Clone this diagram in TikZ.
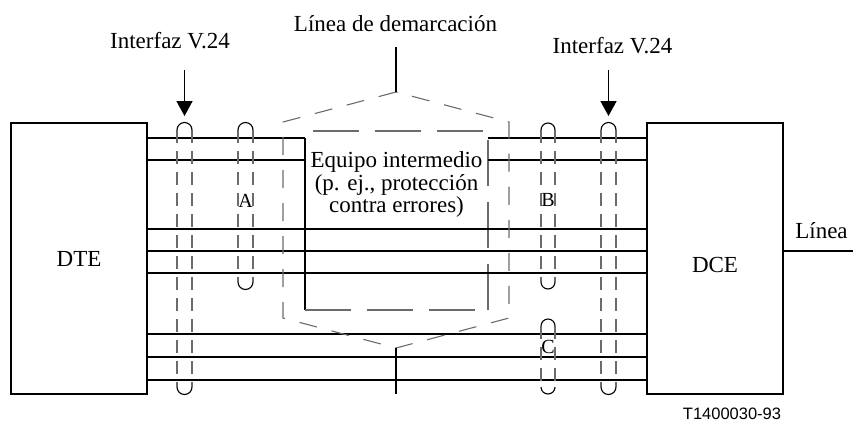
\documentclass[tikz,border=0pt]{standalone}
\usepackage{fontspec}
\setmainfont{Liberation Serif}
\newfontfamily\labsans{Liberation Sans}
\usetikzlibrary{arrows.meta}
\definecolor{dashgray}{gray}{0.42}
\begin{document}
\begin{tikzpicture}[x=1pt,y=-1pt,
  box/.style={draw, line width=1.2pt, inner sep=0pt, minimum width=136pt, minimum height=271pt,
              font=\fontsize{23}{27}\selectfont},
  wire/.style={line width=2pt},
  bundle/.style={dashgray, line width=1.1pt, dash pattern=on 13pt off 8pt},
  ovalend/.style={line width=1.1pt},
  hexline/.style={dashgray, line width=1.1pt, dash pattern=on 18pt off 15pt},
  iebox/.style={dashgray, line width=1.3pt, dash pattern=on 46pt off 16pt},
  txt/.style={font=\fontsize{23}{27}\selectfont, inner sep=0pt, anchor=base},
  lbl/.style={font=\fontsize{20}{24}\selectfont, inner sep=0pt},
  ptr/.style={line width=1.6pt, -{Triangle[length=15pt,width=16pt]}},
  stem/.style={line width=1.6pt}]
\useasboundingbox (0,0) rectangle (853,421);

% end boxes
\node[box] (DTE) at (79,258.5) {DTE};
\node[box] (DCE) at (715,258.5) {};
\node[txt, anchor=center] (dcet) at (715,265) {DCE};

% intermediate equipment frame
\coordinate (ieL) at (305,0);
\coordinate (ieR) at (488,0);
\draw[line width=1.2pt] (305,138) -- (305,310);
\draw[iebox] (305,310) -- (488,310);
\draw[iebox] (488,310) -- (488,138);
\draw[iebox] (313,131) -- (488,131);
\node[txt] (eq1) at (396.5,167) {Equipo intermedio};
\node[txt] (eq2) at (396.5,190) {(p. ej., protección};
\node[txt] (eq3) at (396.5,212) {contra errores)};

% wires
\foreach \yy in {138,160} {
  \draw[wire] (DTE.east |- 0,\yy) -- (ieL |- 0,\yy);
  \draw[wire] (ieR |- 0,\yy) -- (DCE.west |- 0,\yy);
}
\foreach \yy in {229,251,273,334,357,380} {
  \draw[wire] (DTE.east |- 0,\yy) -- (DCE.west |- 0,\yy);
}

% line out of the DCE
\coordinate (lineEnd) at (853,251);
\draw[line width=1.6pt] (DCE.east |- lineEnd) -- (lineEnd);
\node[txt] (linea) at (821.5,238) {Línea};

% demarcation hexagon
\coordinate (hT) at (396,92);
\coordinate (hB) at (396,348);
\draw[hexline] (hT) -- (283,122) -- (283,318) -- (hB) -- (509,318) -- (509,122) -- cycle;
\node[txt] (dem) at (395.5,31) {Línea de demarcación};
\coordinate (demTop) at (396,47);
\coordinate (demBot) at (396,394);
\draw[stem] (demTop) -- (hT);
\draw[stem] (hB) -- (demBot);

% cable bundles
\foreach \xl/\xr/\yt/\yb in {177/192/130/387, 238/253/130/282, 541/555/130/282, 541/555/326/387, 601/616/130/387} {
  \pgfmathsetmacro\rr{(\xr-\xl)/2}
  \draw[bundle] (\xl,\yt) -- (\xl,\yb) (\xr,\yt) -- (\xr,\yb);
  \draw[ovalend] (\xl,\yt) arc[start angle=180, end angle=0, radius=\rr pt];
  \draw[ovalend] (\xl,\yb) arc[start angle=180, end angle=360, radius=\rr pt];
}
\node[lbl] (la) at (245.5,201) {A};
\node[lbl] (lb) at (548,200) {B};
\node[lbl] (lc) at (548,347) {C};

% V.24 interfaces
\node[txt] (if1) at (170,48) {Interfaz V.24};
\node[txt] (if2) at (612.5,53) {Interfaz V.24};
\coordinate (a1s) at (184.5,70);
\coordinate (a1t) at (184.5,116);
\coordinate (a2s) at (608.5,70);
\coordinate (a2t) at (608.5,116);
\draw[ptr] (a1s) -- (a1t);
\draw[ptr] (a2s) -- (a2t);

% figure number
\node[inner sep=0pt, anchor=base, font=\labsans\fontsize{16.5}{20}\selectfont] (fig) at (732,419) {T1400030-93};
\end{tikzpicture}
\end{document}
